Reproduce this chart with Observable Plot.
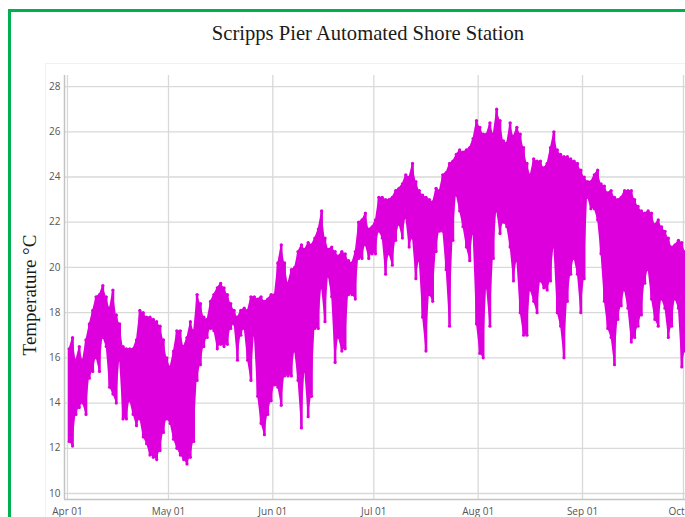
<!DOCTYPE html>
<html>
<head>
<meta charset="utf-8">
<script src="https://cdn.jsdelivr.net/npm/d3@7"></script>
<script src="https://cdn.jsdelivr.net/npm/@observablehq/plot@0.6"></script>
<style>
  html, body { margin: 0; padding: 0; background: #fff; overflow: hidden; width: 685px; height: 517px; }
  #wrap { position: relative; width: 685px; height: 517px; overflow: hidden; }
  #frame { position: absolute; left: 8px; top: 9px; width: 760px; height: 600px; border: 3px solid #00b050; box-sizing: border-box; }
  #panel { position: absolute; left: 45px; top: 63px; width: 700px; height: 500px; border: 1px solid #f1f1f1; box-sizing: border-box; }
  #title { position: absolute; left: 368px; top: 23px; transform: translateX(-50%); white-space: nowrap;
           font-family: "Liberation Serif", "Times New Roman", serif; font-size: 20.6px; line-height: 20px; color: #1a1a1a; }
  #ylab { position: absolute; left: 29px; top: 295px; transform: translate(-50%, -50%) rotate(-90deg); white-space: nowrap;
          font-family: "Liberation Serif", "Times New Roman", serif; font-size: 19px; line-height: 19px; color: #1a1a1a; }
  #chart { position: absolute; left: 0; top: 0; width: 705px; height: 517px; }
  #chart svg { max-width: none !important; width: 705px; height: 517px; }
</style>
</head>
<body>
<div id="wrap">
  <div id="frame"></div>
  <div id="panel"></div>
  <div id="chart"></div>
  <div id="title">Scripps Pier Automated Shore Station</div>
  <div id="ylab">Temperature °C</div>
</div>
<script>
// Daily maximum / minimum sea temperature (°C), Apr 01 .. Oct 01
const dailyMax = [
  // Apr
  16.4, 16.9, 15.9, 16.5, 15.9, 16.8, 17.5, 18.1, 18.7, 18.8, 19.2, 18.7, 18.2, 19.0, 17.9,
  17.5, 16.5, 16.4, 16.4, 16.4, 16.8, 18.1, 18.0, 17.8, 17.8, 17.7, 17.6, 17.4, 16.8, 16.0,
  // May
  15.6, 16.3, 17.2, 17.2, 16.5, 16.9, 17.6, 17.2, 18.8, 18.4, 17.8, 17.7, 18.5, 18.8, 19.1, 19.3,
  19.1, 18.8, 18.4, 18.1, 17.8, 18.1, 18.2, 18.1, 18.7, 18.7, 18.6, 18.7, 18.5, 18.6, 18.8,
  // Jun
  18.8, 20.2, 21.0, 20.2, 19.3, 19.9, 20.0, 20.7, 21.0, 20.8, 21.1, 21.0, 21.3, 21.7, 22.5,
  21.3, 20.8, 20.9, 20.7, 20.5, 20.7, 20.6, 20.3, 20.2, 20.7, 22.0, 22.1, 22.4, 21.7, 21.8,
  // Jul
  22.1, 23.1, 23.1, 23.0, 23.0, 23.1, 23.4, 23.5, 23.7, 24.1, 24.0, 24.6, 23.8, 23.4, 23.2, 23.1,
  23.0, 22.9, 23.5, 23.4, 24.1, 24.2, 24.6, 24.7, 25.0, 25.2, 25.1, 25.2, 25.3, 25.7, 26.5,
  // Aug
  26.2, 25.9, 25.9, 26.4, 25.9, 27.0, 26.5, 25.6, 25.5, 26.4, 25.8, 26.2, 25.9, 25.3, 24.6, 24.1,
  24.8, 24.7, 24.7, 24.4, 24.6, 25.3, 26.0, 25.2, 25.0, 24.9, 24.9, 24.8, 24.7, 24.6, 24.3,
  // Sep
  24.0, 23.8, 23.8, 24.1, 24.3, 23.7, 23.6, 23.3, 23.4, 23.1, 23.0, 23.1, 23.4, 23.4, 23.4,
  23.0, 22.7, 22.5, 22.4, 22.5, 22.4, 21.9, 22.1, 21.8, 21.6, 21.3, 20.9, 21.0, 21.2, 21.1,
  // Oct 01
  20.7
];
const dailyMin = [
  // Apr
  12.3, 12.1, 13.5, 13.8, 14.0, 13.5, 15.1, 15.4, 16.0, 15.4, 16.9, 16.5, 14.7, 14.4, 14.0,
  15.9, 13.3, 13.3, 14.1, 13.5, 13.0, 13.3, 12.5, 12.2, 11.7, 11.6, 11.5, 11.9, 12.7, 13.3,
  // May
  13.1, 12.4, 12.0, 11.7, 11.5, 11.3, 11.6, 12.3, 15.0, 15.7, 16.5, 16.9, 17.3, 17.2, 16.4, 16.6,
  16.5, 16.6, 17.3, 17.5, 15.9, 17.0, 17.3, 15.9, 15.0, 17.0, 14.3, 13.1, 12.6, 13.5, 14.1,
  // Jun
  14.8, 14.7, 13.9, 15.2, 15.2, 15.2, 16.3, 15.0, 12.9, 15.4, 13.4, 14.3, 17.3, 17.3, 19.1,
  17.6, 19.6, 18.7, 15.8, 16.9, 16.3, 16.4, 18.8, 18.8, 18.6, 20.4, 20.4, 21.0, 20.4, 20.6,
  // Jul
  20.6, 21.6, 21.3, 19.7, 20.6, 20.1, 21.2, 21.9, 21.3, 22.2, 20.9, 21.3, 19.5, 20.3, 17.8, 16.3,
  18.8, 18.5, 20.7, 21.6, 21.6, 19.9, 17.4, 21.2, 23.2, 22.5, 21.8, 20.9, 20.3, 21.5, 17.5,
  // Aug
  16.2, 16.0, 19.1, 17.4, 20.4, 22.5, 21.5, 22.0, 21.8, 20.9, 19.4, 20.3, 18.0, 17.0, 17.0, 19.0,
  18.5, 18.0, 19.4, 19.1, 19.0, 19.4, 20.9, 18.0, 17.4, 16.0, 18.5, 19.7, 20.4, 19.7, 18.0,
  // Sep
  19.5, 23.1, 22.6, 22.6, 22.1, 20.6, 18.5, 17.3, 16.9, 15.7, 17.7, 18.3, 19.0, 18.2, 16.7,
  16.9, 17.4, 17.9, 19.3, 19.9, 18.6, 17.7, 17.4, 18.6, 18.2, 16.9, 17.4, 18.6, 18.2, 15.6,
  // Oct 01
  16.3
];
const firstDay = "2018-04-01";
const monthTicks = ["2018-04-01", "2018-05-01", "2018-06-01", "2018-07-01", "2018-08-01", "2018-09-01", "2018-10-01"];
const tempTicks = [10, 12, 14, 16, 18, 20, 22, 24, 26, 28];

const DAY = 864e5;
const t0 = new Date(firstDay + "T00:00:00Z").getTime();
const rows = dailyMax.map((mx, i) => ({
  date: new Date(t0 + (i + 0.5) * DAY),
  max: mx,
  min: dailyMin[i]
}));
const xTicks = monthTicks.map(s => new Date(s + "T00:00:00Z"));

// scale configuration (domain padding so the frame starts just left of Apr 01 and runs past Oct 01)
const xDomain = [new Date(t0 - 0.891 * DAY), new Date(t0 + 189.54 * DAY)];
const yDomain = [9.735, 28.49];

const magenta = "#dd00dd";
const gridColor = "#d9d9d9";

const chart = Plot.plot({
  width: 705,
  height: 517,
  marginLeft: 64,
  marginRight: 0,
  marginTop: 75,
  marginBottom: 18,
  style: { fontFamily: "'Open Sans', sans-serif", fontSize: "10px", color: "#555", background: "transparent", overflow: "visible" },
  x: { type: "utc", domain: xDomain, axis: null },
  y: { domain: yDomain, axis: null },
  marks: [
    Plot.gridY(tempTicks, { stroke: gridColor, strokeOpacity: 1, strokeWidth: 1.3 }),
    Plot.gridX(xTicks, { stroke: gridColor, strokeOpacity: 1, strokeWidth: 1.3 }),
    Plot.ruleX([xDomain[0]], { stroke: "#c4c4c4", strokeWidth: 1.5 }),
    Plot.ruleY([yDomain[0]], { stroke: "#c4c4c4", strokeWidth: 1.5 }),
    Plot.areaY(rows, { x: "date", y1: "min", y2: "max", fill: magenta, fillOpacity: 1, curve: "linear" }),
    Plot.ruleX(rows, { x: "date", y1: "min", y2: "max", stroke: magenta, strokeWidth: 2.6 }),
    Plot.dot(rows, { x: "date", y: "max", r: 1.6, fill: magenta, stroke: "none" }),
    Plot.dot(rows, { x: "date", y: "min", r: 1.6, fill: magenta, stroke: "none" }),
    Plot.axisY(tempTicks, { tickSize: 0, tickPadding: 4, fill: "#555", fontSize: 10 }),
    Plot.axisX(xTicks, { tickSize: 0, tickPadding: 8, tickFormat: d3.utcFormat("%b %d"), fill: "#555", fontSize: 10 })
  ]
});
document.getElementById("chart").appendChild(chart);
</script>
</body>
</html>
